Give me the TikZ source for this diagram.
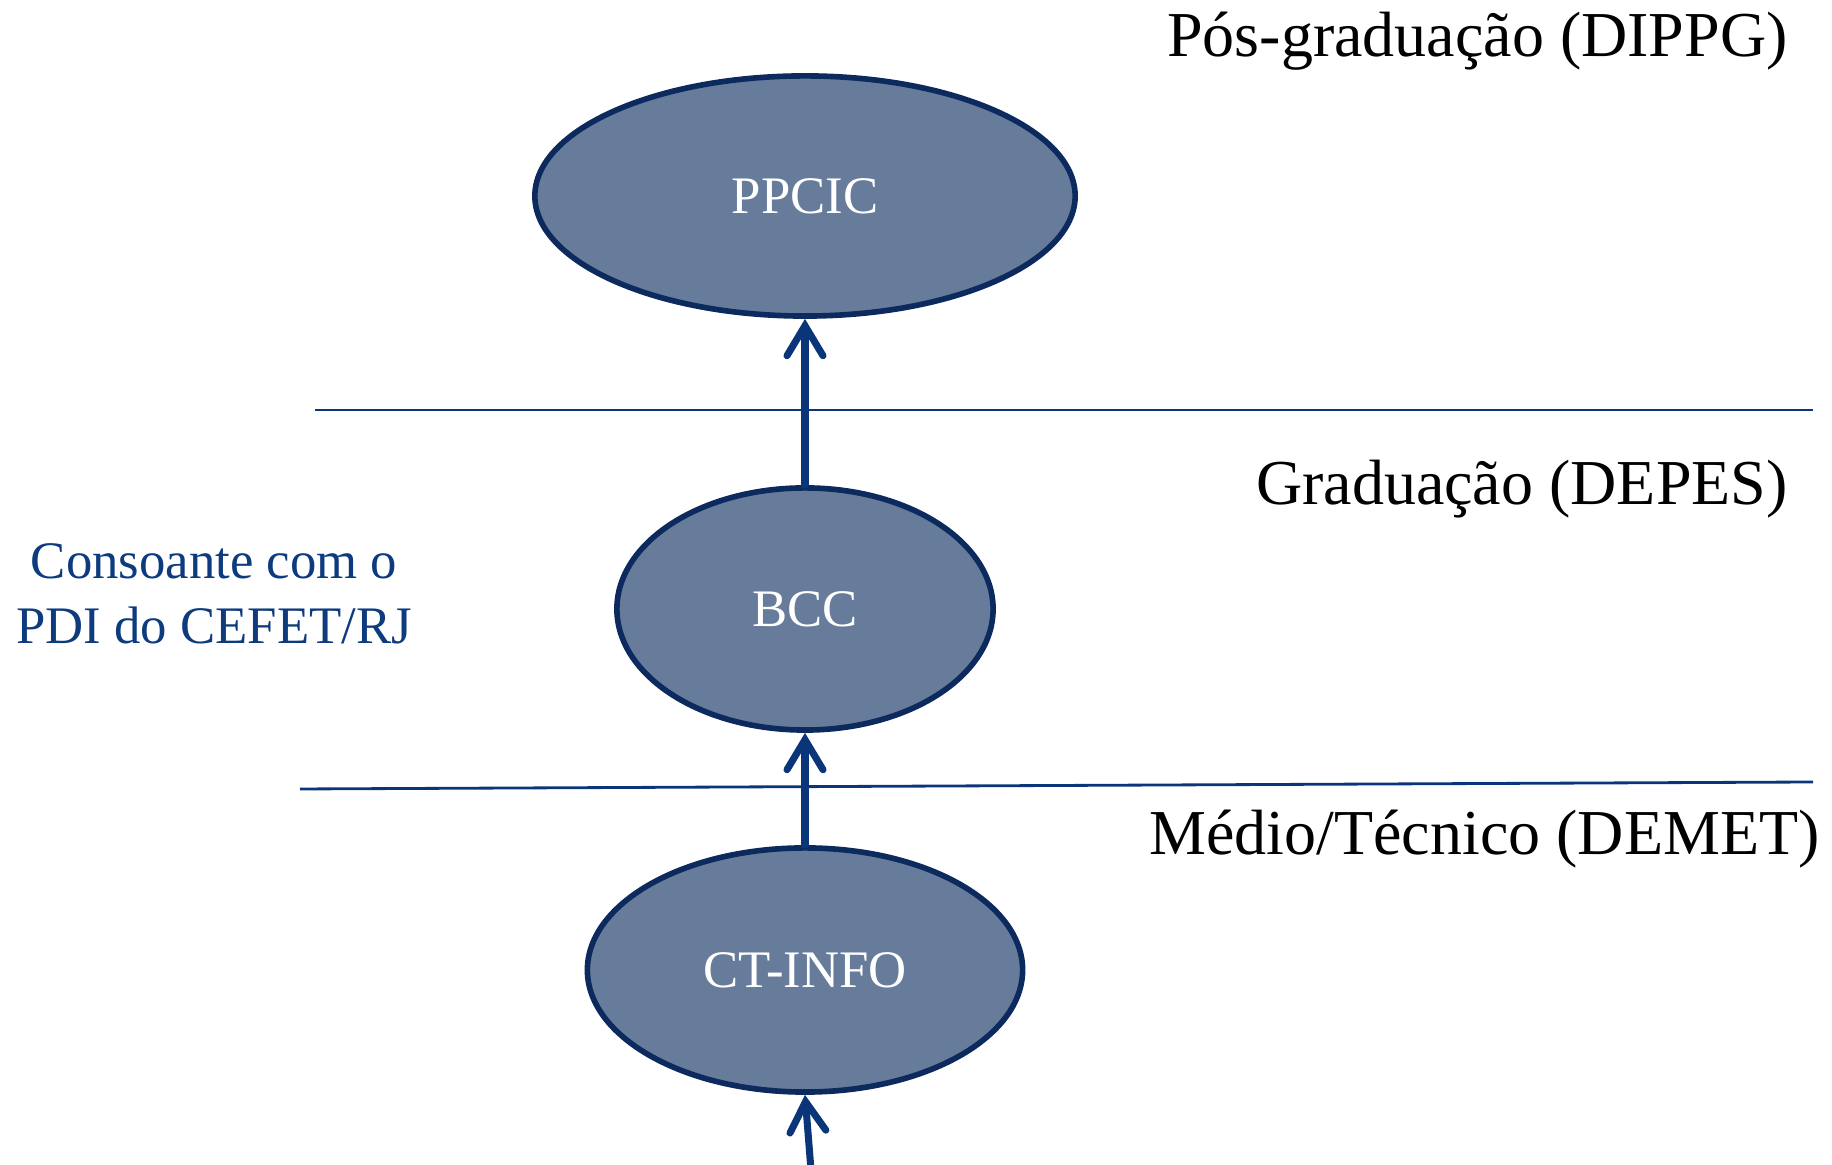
\documentclass[tikz,border=0pt]{standalone}
\usepackage{fontspec}
\setmainfont{Liberation Serif}
\usetikzlibrary{shapes.geometric,arrows.meta}
\definecolor{ovalfill}{HTML}{677B9A}
\definecolor{ovalline}{HTML}{0C2A5E}
\definecolor{arrowblue}{HTML}{0A3578}
\definecolor{noteblue}{HTML}{0D3B7E}
\tikzset{
  curso/.style={ellipse,draw=ovalline,line width=1.6pt,fill=ovalfill,text=white,inner sep=0pt,font=\fontsize{15}{18}\selectfont},
  nivel/.style={anchor=east,font=\fontsize{18.2}{21}\selectfont},
  sobe/.style={draw=arrowblue,line width=2pt,line cap=round,-{Straight Barb[length=0.3cm,width=0.36cm,line cap=round]}},
  divisa/.style={draw=arrowblue,line width=0.8pt}
}
\begin{document}
\begin{tikzpicture}[x=0.01cm,y=-0.01cm]
\useasboundingbox (0,0) rectangle (1832,1165);
\path (805,196) node[curso,minimum width=5.4cm,minimum height=2.4cm](PPCIC){PPCIC}
  (805,609) node[curso,minimum width=3.76cm,minimum height=2.42cm](BCC){BCC}
  (805,970) node[curso,minimum width=4.35cm,minimum height=2.44cm](CTINFO){CT-INFO};
\path (1800,41) node[nivel](posgrad){Pós-graduação (DIPPG)}
  (1800,489) node[nivel](grad){Graduação (DEPES)}
  (1832,839) node[nivel](medio){Médio/Técnico (DEMET)}
  (214,594) node[align=center,text=noteblue,font=\fontsize{15}{18.5}\selectfont](pdi){Consoante com o\\PDI do CEFET/RJ};
\coordinate (linhaA1) at (315,410);
\coordinate (linhaA2) at (1813,410);
\coordinate (linhaB1) at (300,789);
\coordinate (linhaB2) at (1813,782);
\coordinate (entrada) at (811,1170);

\draw[divisa] (linhaA1) -- (linhaA2);
\draw[divisa] (linhaB1) -- (linhaB2);
\draw[sobe] (BCC) -- (PPCIC);
\draw[sobe] (CTINFO) -- (BCC);
\draw[sobe] (entrada) -- (CTINFO.south);
\end{tikzpicture}
\end{document}
